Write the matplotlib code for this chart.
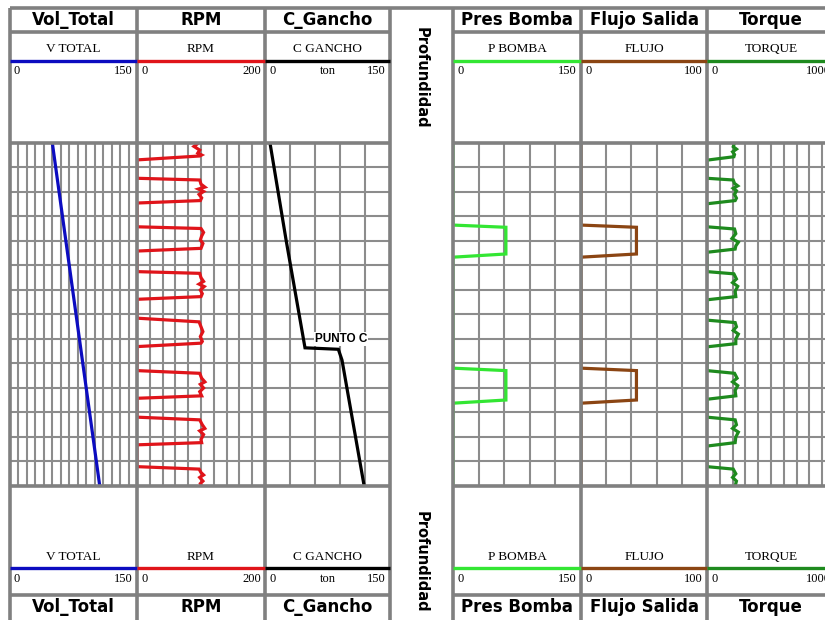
import matplotlib
matplotlib.use("Agg")
import matplotlib.pyplot as plt
import numpy as np

# Track headers and scales
track_titles = ["Vol_Total", "RPM", "C_Gancho", "Pres Bomba", "Flujo Salida", "Torque"]
curve_names = ["V TOTAL", "RPM", "C GANCHO", "P BOMBA", "FLUJO", "TORQUE"]
scale_max = [150, 200, 150, 150, 100, 1000]
scale_units = ["", "", "ton", "", "", ""]

depth_top, depth_bottom = 2000, 2140

# Volumen total
vol_depth = [2000, 2035, 2070, 2105, 2140]
vol_total = [50, 64, 78, 92, 106]

# RPM (pulses of rotation)
rpm_depth = [2000, 2001.4, 2002.9, 2004.1, 2004.9, 2005.3, 2006.9,
             2014.4, 2015.1, 2016.8, 2018.0, 2018.8, 2019.8, 2021.0, 2022.4, 2023.5, 2024.5,
             2034.2, 2034.9, 2036.5, 2038.0, 2039.6, 2041.0, 2043.0, 2044.1,
             2052.5, 2053.2, 2055.0, 2056.5, 2057.6, 2058.6, 2060.0, 2061.5, 2062.7, 2063.8,
             2071.5, 2073.0, 2075.0, 2077.0, 2079.0, 2081.0, 2081.7, 2083.1,
             2092.9, 2094.0, 2096.0, 2097.5, 2098.5, 2100.0, 2101.5, 2103.2, 2104.2,
             2111.9, 2113.0, 2115.0, 2116.5, 2117.5, 2119.0, 2121.0, 2122.3, 2123.2,
             2132.1, 2133.1, 2134.5, 2135.5, 2136.5, 2138.0, 2139.0, 2140.0]
rpm = [96, 89, 98, 95, 101, 98, 0,
       0, 98, 100, 106, 96, 104, 97, 101, 99, 0,
       0, 100, 104, 101, 99, 103, 100, 0,
       0, 98, 100, 104, 97, 105, 99, 102, 100, 0,
       0, 97, 100, 103, 99, 102, 100, 0,
       0, 98, 101, 106, 99, 104, 98, 101, 0,
       0, 98, 102, 106, 98, 104, 100, 101, 0,
       0, 97, 100, 104, 98, 103, 99, 101]

# Carga en el gancho (ton)
gancho_depth = [2000, 2040, 2083.6, 2084.2, 2088.6, 2140]
gancho = [6, 25.5, 48, 88, 92.4, 119]

# Presion de bomba
pbomba_depth = [2000, 2033.5, 2034.4, 2040.0, 2045.3, 2046.6,
                2091.9, 2092.9, 2098.0, 2104.9, 2106.2, 2140]
pbomba = [0, 0, 62, 62, 62, 0,
          0, 62, 62, 62, 0, 0]

# Flujo de salida
flujo_depth = [2000, 2033.5, 2034.4, 2040.0, 2045.3, 2046.6,
               2091.9, 2092.9, 2098.0, 2104.9, 2106.2, 2140]
flujo = [0, 0, 44, 44, 44, 0,
         0, 44, 44, 44, 0, 0]

# Torque
torque_depth = [2000, 2001.5, 2002.5, 2003.6, 2004.7, 2005.6, 2007.0,
                2014.4, 2015.1, 2016.5, 2017.5, 2018.5, 2019.5, 2021.0, 2022.5, 2023.5, 2024.8,
                2034.2, 2035.1, 2037.0, 2039.0, 2040.5, 2042.0, 2043.3, 2044.6,
                2052.5, 2053.4, 2055.5, 2057.0, 2058.5, 2060.5, 2062.7, 2064.0,
                2072.3, 2073.3, 2075.0, 2076.5, 2078.0, 2080.0, 2081.9, 2083.2,
                2092.9, 2094.0, 2096.0, 2097.5, 2099.0, 2101.0, 2103.2, 2104.6,
                2111.9, 2113.0, 2115.0, 2116.5, 2118.0, 2120.0, 2122.3, 2123.7,
                2132.1, 2133.1, 2135.0, 2136.5, 2138.0, 2140.0]
torque = [215, 205, 230, 200, 215, 210, 0,
          0, 205, 215, 240, 205, 230, 215, 230, 220, 0,
          0, 215, 225, 195, 245, 225, 220, 0,
          0, 210, 230, 200, 240, 220, 225, 0,
          0, 220, 230, 205, 245, 225, 225, 0,
          0, 215, 235, 200, 240, 220, 225, 0,
          0, 220, 230, 200, 245, 225, 220, 0,
          0, 205, 225, 200, 230, 220]

series = [(vol_depth, vol_total), (rpm_depth, rpm), (gancho_depth, gancho),
          (pbomba_depth, pbomba), (flujo_depth, flujo), (torque_depth, torque)]

curve_colors = ["#0c0cc0", "#e0141a", "#000000", "#33e633", "#8b4513", "#1e8a1e"]
grid_divs = [15, 10, 5, 5, 5, 10]

W, H = 825, 620
track_x = [(10, 137), (137, 265), (265, 390), (453, 581), (581, 707), (707, 835)]
TOP, GRID_TOP, GRID_BOT = 8, 143, 486
BORDER = "#808080"
GRID = "#8c8c8c"


def box(x0, y0, x1, y1):
    return [x0 / W, 1 - y1 / H, (x1 - x0) / W, (y1 - y0) / H]


fig = plt.figure(figsize=(W / 100, H / 100), dpi=100)

for i, (x0, x1) in enumerate(track_x):
    ax = fig.add_axes(box(x0, GRID_TOP, x1, GRID_BOT))
    ax.set_xlim(0, scale_max[i])
    ax.set_ylim(depth_bottom, depth_top)
    ax.set_xticks(np.linspace(0, scale_max[i], grid_divs[i] + 1))
    ax.set_yticks(np.arange(depth_top, depth_bottom + 1, 10))
    ax.grid(True, color=GRID, lw=1.5)
    ax.set_axisbelow(True)
    ax.tick_params(length=0, labelbottom=False, labelleft=False)
    for s in ax.spines.values():
        s.set_visible(False)
    d, v = series[i]
    ax.plot(v, d, color=curve_colors[i], lw=2.3, solid_joinstyle="miter")
    if i == 2:
        ax.text(60, 2080, "PUNTO C", ha="left", va="center", fontsize=8.5,
                fontweight="bold", family="Liberation Sans", zorder=5,
                bbox=dict(facecolor="white", edgecolor="none", pad=0.4))

# headers, borders and depth column drawn on top
fr = fig.add_axes([0, 0, 1, 1], zorder=10)
fr.set_xlim(0, W)
fr.set_ylim(H, 0)
fr.axis("off")
fr.patch.set_alpha(0)

fr.hlines(TOP, 10, 835, color=BORDER, lw=2.6)
for i, (x0, x1) in enumerate(track_x):
    cx = (x0 + x1) / 2
    fr.hlines([32, GRID_TOP, GRID_BOT, 595], x0, x1, color=BORDER, lw=2.6)
    fr.hlines([61, 568], x0, x1, color=curve_colors[i], lw=2.4, zorder=4)
    for ty in (20, 607.5):
        fr.text(cx, ty, track_titles[i], ha="center", va="center",
                fontsize=12, fontweight="bold", family="DejaVu Sans")
    for ny, sy in ((49, 71), (557.5, 578.5)):
        fr.text(cx, ny, curve_names[i], ha="center", va="center",
                fontsize=9.5, family="Liberation Serif")
        fr.text(x0 + 4, sy, "0", ha="left", va="center",
                fontsize=9, family="Liberation Serif")
        fr.text(x1 - 4, sy, str(scale_max[i]), ha="right", va="center",
                fontsize=9, family="Liberation Serif")
        if scale_units[i]:
            fr.text(cx, sy, scale_units[i], ha="center", va="center",
                    fontsize=9, family="Liberation Serif")

for bx in (10, 137, 265, 390, 453, 581, 707, 835):
    fr.vlines(bx, TOP, H, color=BORDER, lw=2.6, zorder=3)

for py in (78, 562):
    fr.text(421, py, "Profundidad", ha="center", va="center", rotation=-90,
            fontsize=10.5, fontweight="bold", family="DejaVu Sans")

fig.savefig("out.png", dpi=100)
